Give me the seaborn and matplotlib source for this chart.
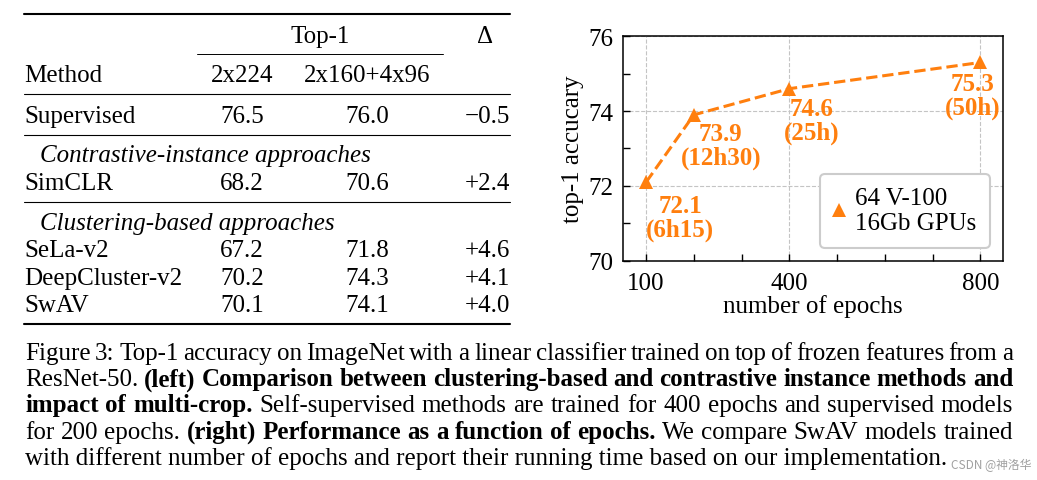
import numpy as np
import pandas as pd
import matplotlib
matplotlib.use("Agg")
import matplotlib.pyplot as plt
from matplotlib.lines import Line2D
from matplotlib.ticker import FixedLocator, MultipleLocator
import seaborn as sns

# ---------------- data ----------------
epochs = [100, 200, 400, 800]
top1_acc = [72.1, 73.9, 74.6, 75.3]
run_time = ["6h15", "12h30", "25h", "50h"]
legend_label = "64 V-100\n16Gb GPUs"
x_label = "number of epochs"
y_label = "top-1 accucary"
x_major = [100, 400, 800]
x_minor = [200, 300, 500, 600, 700]

methods = ["Supervised", "SimCLR", "SeLa-v2", "DeepCluster-v2", "SwAV"]
acc_2x224 = [76.5, 68.2, 67.2, 70.2, 70.1]
acc_multicrop = [76.0, 70.6, 71.8, 74.3, 74.1]
delta = ["\u22120.5", "+2.4", "+4.6", "+4.1", "+4.0"]
group_titles = ["Contrastive-instance approaches", "Clustering-based approaches"]
col_headers = ["Method", "2x224", "2x160+4x96"]
top_header = "Top-1"
delta_header = "\u0394"

caption_lines = [
    [("Figure 3: Top-1 accuracy on ImageNet with a linear classifier trained on top of frozen features from a", False)],
    [("ResNet-50.", False), ("(left) Comparison between clustering-based and contrastive instance methods and", True)],
    [("impact of multi-crop.", True), ("Self-supervised methods are trained for 400 epochs and supervised models", False)],
    [("for 200 epochs.", False), ("(right) Performance as a function of epochs.", True), ("We compare SwAV models trained", False)],
    [("with different number of epochs and report their running time based on our implementation.", False)],
]
watermark = "CSDN @神洛华"

# ---------------- style ----------------
sns.set_theme(style="ticks")
plt.rcParams["font.family"] = ["Liberation Serif", "DejaVu Serif"]
plt.rcParams["axes.edgecolor"] = "black"
plt.rcParams["xtick.color"] = "black"
plt.rcParams["ytick.color"] = "black"
plt.rcParams["text.color"] = "black"
plt.rcParams["axes.labelcolor"] = "black"

W, H = 1037, 481
ORANGE = "#ff7f0e"
FS = 18
fig = plt.figure(figsize=(W / 100, H / 100), dpi=100)
fig.patch.set_facecolor("white")


def fx(x):
    return x / W


def fy(y):
    return 1 - y / H


# ---------------- chart ----------------
ax = fig.add_axes([fx(622.7), fy(261.7), (1003.3 - 622.7) / W, (261.7 - 37.3) / H])
df = pd.DataFrame({"epochs": epochs, "acc": top1_acc})
sns.lineplot(data=df, x="epochs", y="acc", ax=ax, color=ORANGE, marker="^",
             markersize=10, markeredgewidth=0, linestyle="--", linewidth=2.2,
             legend=False)
ax.set_xlim(51, 848)
ax.set_ylim(70, 76)
ax.xaxis.set_major_locator(FixedLocator(x_major))
ax.xaxis.set_minor_locator(FixedLocator(x_minor))
ax.yaxis.set_major_locator(MultipleLocator(2))
ax.yaxis.set_minor_locator(MultipleLocator(1))
ax.tick_params(which="both", direction="in", length=5, width=1, top=False, right=False)
ax.tick_params(axis="x", which="major", labelsize=FS, pad=8)
ax.tick_params(axis="y", which="major", labelsize=FS, pad=7)
ax.grid(True, which="major", linestyle="--", color="#c4c4c4", linewidth=0.8)
for sp in ax.spines.values():
    sp.set_color("black")
    sp.set_linewidth(1.1)
ax.set_xlabel(x_label, fontsize=FS, labelpad=0)
ax.set_ylabel(y_label, fontsize=FS, labelpad=3)

offsets = [(24.5, -25.6), (19.4, -22.0), (16.0, -23.0), (-5.5, -23.8)]
for e, a, t, off in zip(epochs, top1_acc, run_time, offsets):
    ax.annotate(f"{a}\n({t})", xy=(e, a), xytext=off, textcoords="offset points",
                ha="center", va="center", color=ORANGE, fontweight="bold",
                fontsize=FS, linespacing=1.05, multialignment="center")

handle = Line2D([], [], marker="^", linestyle="none", color=ORANGE,
                markersize=10, markeredgewidth=0)
leg = ax.legend([handle], [legend_label], loc="lower right", fontsize=FS,
                frameon=True, fancybox=True, framealpha=1, edgecolor="#cccccc",
                handlelength=0.4, handletextpad=0.45, borderpad=0.55,
                borderaxespad=0.52)
leg.get_frame().set_linewidth(1.5)
for t in leg.get_texts():
    t.set_linespacing(1.15)

# ---------------- table ----------------
fs_tab = FS


def ttext(x, y, s, **kw):
    kw.setdefault("fontsize", fs_tab)
    fig.text(fx(x), fy(y), s, va="baseline", **kw)


def hrule(x0, x1, y, lw):
    fig.add_artist(Line2D([fx(x0), fx(x1)], [fy(y), fy(y)], transform=fig.transFigure,
                          color="black", linewidth=lw))


L, R = 24, 510
C1, C2 = 242, 367
hrule(L, R, 15, 1.5)
ttext(320, 43, top_header, ha="center")
ttext(485, 43, delta_header, ha="center")
hrule(197, 443, 55, 0.7)
ttext(L, 82, col_headers[0], ha="left")
ttext(C1, 82, col_headers[1], ha="center")
ttext(C2, 82, col_headers[2], ha="center")
hrule(L, R, 95, 0.8)

row_y = [123, 190, 257, 285, 312]
for i, (m, a1, a2, d) in enumerate(zip(methods, acc_2x224, acc_multicrop, delta)):
    y = row_y[i]
    ttext(L, y, m, ha="left")
    ttext(C1, y, f"{a1:.1f}", ha="center")
    ttext(C2, y, f"{a2:.1f}", ha="center")
    ttext(R, y, d, ha="right")

hrule(L, R, 136, 0.8)
ttext(40, 162, group_titles[0], ha="left", fontstyle="italic")
hrule(L, R, 203, 0.8)
ttext(40, 230, group_titles[1], ha="left", fontstyle="italic")
hrule(L, R, 325, 1.5)

# ---------------- caption (justified) ----------------
fs_cap = FS
renderer = fig.canvas.get_renderer()


def width_of(s, bold):
    t = fig.text(0, 0, s, fontsize=fs_cap, fontweight="bold" if bold else "normal")
    w = t.get_window_extent(renderer).width
    t.remove()
    return w


cap_x0, cap_x1 = 25, 1013
cap_base = [360, 386.25, 412.5, 438.75, 465]
for li, line in enumerate(caption_lines):
    y = cap_base[li]
    if li == len(caption_lines) - 1:
        fig.text(fx(cap_x0), fy(y), line[0][0], fontsize=fs_cap, va="baseline", ha="left")
        continue
    tokens = [(w, b) for seg, b in line for w in seg.split()]
    widths = [width_of(w, b) for w, b in tokens]
    gap = (cap_x1 - cap_x0 - sum(widths)) / (len(tokens) - 1)
    x = cap_x0
    for (w, b), wd in zip(tokens, widths):
        fig.text(fx(x), fy(y), w, fontsize=fs_cap, va="baseline", ha="left",
                 fontweight="bold" if b else "normal")
        x += wd + gap

fig.text(fx(1031), fy(469), watermark, fontsize=8.5, color="#a0a0a0",
         zorder=10, family=["Noto Sans CJK SC", "DejaVu Sans"], va="baseline", ha="right")

fig.savefig("out.png", dpi=100)
